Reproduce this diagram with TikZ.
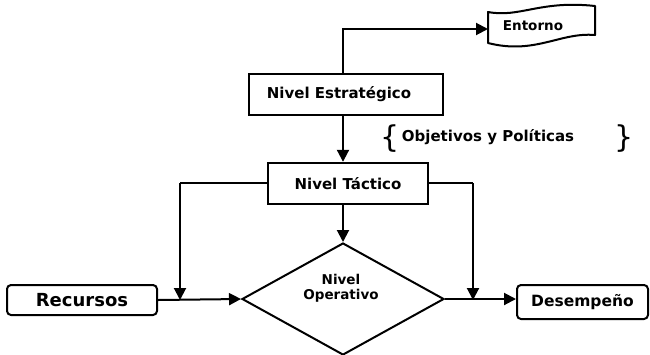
\documentclass[tikz,border=0pt]{standalone}
\usepackage{fontspec}
\setmainfont{DejaVu Sans}
\usetikzlibrary{arrows.meta,shapes.geometric}
\tikzset{
  box/.style={draw, line width=2.4pt, rectangle, inner sep=0pt, font=\bfseries\fontsize{15}{17}\selectfont},
  rbox/.style={draw, line width=2pt, rectangle, rounded corners=4pt, inner sep=0pt},
  ln/.style={line width=2pt},
  arr/.style={line width=2pt, -{Triangle[length=12pt,width=12pt]}},
  lbl/.style={font=\bfseries\fontsize{15}{17}\selectfont, inner sep=0pt}
}
\begin{document}
\begin{tikzpicture}[x=1pt,y=-1pt]
\useasboundingbox (0,0) rectangle (650,354);
% nodes
\node[box, minimum width=194pt, minimum height=41pt] (estr) at (346,94.5) {\hspace*{-14pt}Nivel Estratégico};
\node[box, minimum width=160pt, minimum height=41pt] (tact) at (348,183.5) {Nivel Táctico};
\node[draw, diamond, line width=2pt, minimum width=202pt, minimum height=112pt, inner sep=0pt] (oper) at (343,299) {};
\node[lbl, align=center, font=\bfseries\fontsize{13.5}{15}\selectfont] (opertxt) at (341,288) {Nivel\\Operativo};
\node[rbox, minimum width=150pt, minimum height=30pt, font=\bfseries\fontsize{18}{20}\selectfont] (recur) at (82,300) {Recursos};
\node[rbox, minimum width=131pt, minimum height=34pt, font=\bfseries\fontsize{15.5}{17}\selectfont] (desem) at (582.5,302) {Desempeño};
% Entorno banner
\draw[line width=2pt, line join=round] (488,12) .. controls (520,18) and (540,0) .. (595,6) -- (595,35) .. controls (560,32) and (535,55) .. (488,43) -- cycle;
\node[lbl, font=\bfseries\fontsize{13.5}{15}\selectfont] (ent) at (533,26) {Entorno};
\coordinate (entL) at (488,29);
% Objetivos y Políticas
\node[inner sep=0pt, font=\fontsize{30}{32}\selectfont] (lbr) at (390,139) {\{};
\node[lbl] (obj) at (488,137) {Objetivos y Políticas};
\node[inner sep=0pt, font=\fontsize{30}{32}\selectfont] (rbr) at (624,139) {\}};
% junctions
\coordinate (tl) at (180,183);
\coordinate (jL) at (180,300);
\coordinate (tr) at (473,183);
\coordinate (jR) at (473,300);
% connectors
\draw[arr] ([xshift=-3pt]estr.north) |- (entL);
\draw[arr] ([xshift=-3pt]estr.south) -- ([xshift=-5pt]tact.north);
\draw[arr] ([xshift=-5pt]tact.south) -- (oper.north);
\draw[ln] (tact.west |- tl) -- (tl);
\draw[arr] (tl) -- (jL);
\draw[ln] (tact.east |- tr) -- (tr);
\draw[arr] (tr) -- (jR);
\draw[arr] (recur.east) -- (oper.west);
\draw[arr] (oper.east) -- (desem.west |- oper.east);
\end{tikzpicture}
\end{document}
